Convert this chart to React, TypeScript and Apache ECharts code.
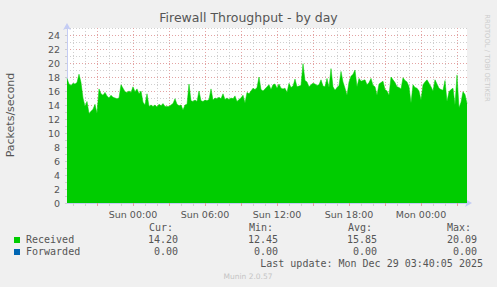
import React, { useEffect, useRef } from "react";
import * as echarts from "echarts";

// Received packets/second, 10-minute samples from Sat 18:30 onward
const received: number[] = [
  17.8, 17.0, 16.8, 17.1, 17.0, 17.2, 18.4, 17.2, 15.0, 13.8,
  14.5, 12.8, 13.1, 13.4, 14.1, 12.8, 16.3, 15.6, 15.4, 15.8,
  15.3, 15.0, 15.4, 15.1, 15.0, 14.9, 15.0, 16.9, 16.4, 15.9,
  15.8, 16.0, 15.8, 16.6, 15.9, 16.3, 15.6, 16.0, 14.4, 14.0,
  15.6, 13.8, 14.0, 13.8, 14.0, 13.7, 14.1, 13.9, 14.2, 13.8,
  13.8, 13.8, 14.0, 14.2, 14.9, 14.1, 13.9, 14.0, 13.3, 14.0,
  14.1, 17.0, 14.6, 14.5, 14.7, 14.5, 16.0, 14.6, 14.5, 14.7,
  14.6, 14.8, 16.3, 14.7, 15.0, 14.9, 15.1, 14.9, 15.6, 14.8,
  15.0, 14.8, 15.0, 14.9, 15.3, 14.5, 14.8, 15.0, 15.4, 14.3,
  15.8, 15.6, 16.0, 16.4, 16.2, 16.5, 18.0, 16.2, 16.0, 16.3,
  16.6, 16.9, 16.2, 16.9, 17.0, 16.4, 17.0, 16.4, 16.3, 16.4,
  15.8, 17.1, 16.5, 16.7, 17.7, 16.6, 16.7, 16.8, 19.9, 17.5,
  17.3, 16.6, 16.9, 17.1, 17.0, 16.8, 16.9, 17.6, 16.7, 16.6,
  17.8, 16.5, 19.2, 16.6, 16.1, 16.5, 16.8, 18.8, 17.3, 16.4,
  15.4, 17.3, 18.1, 18.4, 19.0, 16.6, 17.8, 17.4, 17.5, 17.6,
  16.9, 17.2, 17.8, 16.8, 16.6, 15.4, 17.0, 17.2, 17.4, 16.2,
  16.0, 15.4, 18.0, 17.6, 17.2, 16.6, 16.5, 16.3, 17.9, 17.5,
  17.3, 16.6, 14.3, 16.9, 16.5, 16.4, 16.0, 14.7, 16.9, 17.3,
  17.6, 17.1, 16.6, 16.0, 17.6, 17.0, 16.4, 16.2, 16.1, 17.5,
  14.5, 15.9, 16.2, 16.4, 14.0, 18.3, 13.6, 14.4, 15.9, 15.5,
  14.2,
];

const dayNames = ["Sat", "Sun", "Mon"];
const startMinutes = 18 * 60 + 30;
const stepMinutes = 10;

const legendNames = ["Received", "Forwarded"];
const legendColors = ["#00cc00", "#0066b3"];
const statHeaders = ["Cur:", "Min:", "Avg:", "Max:"];
const statValues = [
  ["14.20", "12.45", "15.85", "20.09"],
  ["0.00", "0.00", "0.00", "0.00"],
];
const titleText = "Firewall Throughput - by day";
const yAxisTitle = "Packets/second";
const lastUpdate = "Last update: Mon Dec 29 03:40:05 2025";
const footer = "Munin 2.0.57";
const sideText = "RRDTOOL / TOBI OETIKER";

const pad = (n: number) => (n < 10 ? "0" + n : String(n));
const minutesOf = (i: number) => startMinutes + stepMinutes * i;
const categories = received.map((_, i) => {
  const t = minutesOf(i);
  const day = dayNames[Math.floor(t / 1440)];
  const m = t % 1440;
  return `${day} ${pad(Math.floor(m / 60))}:${pad(m % 60)}`;
});
const isHour = (i: number) => minutesOf(i) % 60 === 0;
const is3h = (i: number) => minutesOf(i) % 180 === 0;
const is6h = (i: number) => minutesOf(i) % 360 === 0;

const MONO = "'DejaVu Sans Mono', monospace";
const SANS = "'DejaVu Sans', sans-serif";
const AXIS = "#c4ccf4";
const GRID_GRAY = "#cfcfcf";
const GRID_RED = "#e3a3a3";
const TXT = "#555555";

export default function App() {
  const ref = useRef<HTMLDivElement>(null);
  useEffect(() => {
    if (!ref.current) return;
    const chart = echarts.init(ref.current, undefined, { renderer: "svg" });
    const graphics: any[] = [];
    graphics.push({
      type: "text", x: 248.5, y: 11,
      style: { text: titleText, font: `12.5px ${SANS}`, fill: TXT, align: "center", verticalAlign: "top" },
    });
    graphics.push({
      type: "text", x: 10, y: 115, rotation: Math.PI / 2,
      style: { text: yAxisTitle, font: `11px ${SANS}`, fill: TXT, align: "center", verticalAlign: "middle" },
    });
    graphics.push({
      type: "text", x: 487, y: 58, rotation: -Math.PI / 2,
      style: { text: sideText, font: `6.8px ${SANS}`, fill: "#cccccc", align: "center", verticalAlign: "middle" },
    });
    const headerX = [149, 249, 348, 447];
    const valueRight = [178, 278, 377, 477];
    statHeaders.forEach((h, k) => {
      graphics.push({
        type: "text", x: headerX[k], y: 227,
        style: { text: h, font: `10px ${MONO}`, fill: TXT, align: "left", verticalAlign: "middle" },
      });
    });
    legendNames.forEach((name, r) => {
      const y = 239 + r * 12;
      graphics.push({ type: "rect", shape: { x: 14, y: y - 2, width: 6, height: 6 }, style: { fill: legendColors[r] } });
      graphics.push({
        type: "text", x: 26, y,
        style: { text: name, font: `10px ${MONO}`, fill: TXT, align: "left", verticalAlign: "middle" },
      });
      statValues[r].forEach((v, k) => {
        graphics.push({
          type: "text", x: valueRight[k], y,
          style: { text: v, font: `10px ${MONO}`, fill: TXT, align: "right", verticalAlign: "middle" },
        });
      });
    });
    graphics.push({
      type: "text", x: 483, y: 263,
      style: { text: lastUpdate, font: `10px ${MONO}`, fill: TXT, align: "right", verticalAlign: "middle" },
    });
    graphics.push({
      type: "text", x: 248, y: 276,
      style: { text: footer, font: `7.5px ${SANS}`, fill: "#c4c4c4", align: "center", verticalAlign: "middle" },
    });

    chart.setOption({
      animation: false,
      backgroundColor: "#f0f0f0",
      grid: { left: 67, top: 28, width: 400, height: 175, show: true, backgroundColor: "#ffffff", borderWidth: 0 },
      xAxis: [
        {
          type: "category", data: categories, boundaryGap: false, position: "bottom",
          axisLine: { show: true, lineStyle: { color: AXIS, width: 1 }, symbol: ["none", "arrow"], symbolSize: [6, 7], symbolOffset: [0, 5] },
          axisTick: { show: true, interval: (i: number) => isHour(i), length: 3, lineStyle: { color: GRID_GRAY } },
          splitLine: { show: true, interval: (i: number) => isHour(i), lineStyle: { color: GRID_GRAY, type: [1, 2] } },
          axisLabel: { show: false },
        },
        {
          type: "category", data: categories, boundaryGap: false, position: "bottom",
          axisLine: { show: false },
          axisTick: { show: true, interval: (i: number) => is3h(i), length: 3, lineStyle: { color: GRID_RED } },
          splitLine: { show: true, interval: (i: number) => is3h(i), lineStyle: { color: GRID_RED, type: [1, 2] } },
          axisLabel: { show: true, interval: (i: number) => is6h(i), fontSize: 9.5, color: TXT, fontFamily: SANS, margin: 6 },
        },
      ],
      yAxis: [
        {
          type: "value", min: 0, max: 25, interval: 1, position: "left",
          axisLine: { show: true, lineStyle: { color: AXIS, width: 1 }, symbol: ["none", "arrow"], symbolSize: [6, 7], symbolOffset: [0, 5] },
          axisTick: { show: true, length: 2, lineStyle: { color: GRID_GRAY } },
          splitLine: { show: true, lineStyle: { color: GRID_GRAY, type: [1, 2] } },
          axisLabel: { show: false },
        },
        {
          type: "value", min: 0, max: 25, interval: 2, position: "left",
          axisLine: { show: false },
          axisTick: { show: false },
          splitLine: { show: true, showMaxLine: false, lineStyle: { color: GRID_RED, type: [1, 2] } },
          axisLabel: { show: true, showMaxLabel: false, fontSize: 9.5, color: TXT, fontFamily: SANS, margin: 7,
            formatter: (v: number) => (v % 2 === 0 ? String(v) : "") },
        },
      ],
      series: [
        {
          type: "line", name: legendNames[0], data: received, xAxisIndex: 0, yAxisIndex: 0,
          symbol: "none", smooth: false,
          lineStyle: { width: 0.5, color: legendColors[0] },
          areaStyle: { color: legendColors[0], opacity: 1 },
          z: 3,
        },
      ],
      graphic: graphics,
    });
    return () => chart.dispose();
  }, []);
  return <div ref={ref} style={{ position: "fixed", left: 0, top: 0, width: 497, height: 287 }} />;
}
